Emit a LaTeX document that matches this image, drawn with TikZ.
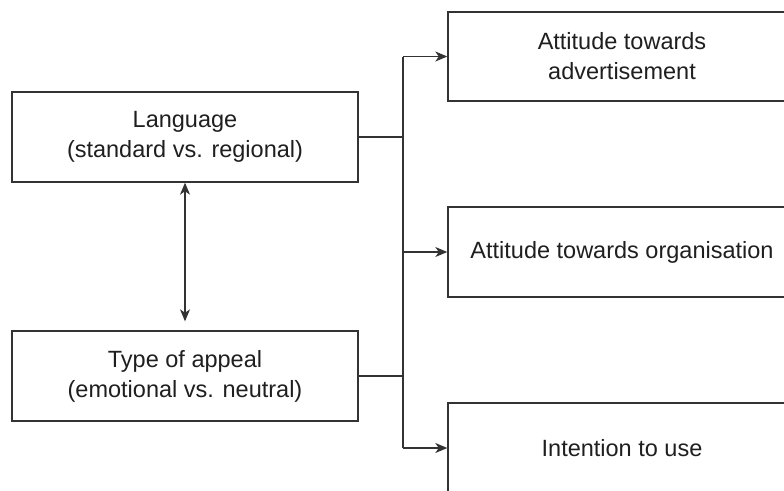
\documentclass[tikz,border=0pt]{standalone}
\usepackage{fontspec}
\setmainfont{Liberation Sans}
\usetikzlibrary{arrows.meta}
\begin{document}
\begin{tikzpicture}[x=1pt,y=-1pt,
  box/.style={draw=black!80,line width=1.4pt,fill=white,inner sep=0pt,
    align=center,text=black!88,font=\fontsize{23.5}{30}\selectfont},
  conn/.style={draw=black!80,line width=1.3pt},
  arr/.tip={Stealth[length=12pt,width=10pt,inset=3.5pt]},
  tip/.style={-arr}]
\useasboundingbox (0,0) rectangle (784,490);
\clip (0,0) rectangle (784,490);
\fill[white] (0,0) rectangle (784,490);
\node[box,minimum width=346pt,minimum height=90pt] (lang) at (185,137) {Language\\(standard vs. regional)};
\node[box,minimum width=346pt,minimum height=90pt] (type) at (185,376) {Type of appeal\\(emotional vs. neutral)};
\node[box,minimum width=348pt,minimum height=89pt] (att1) at (622,56.5) {Attitude towards\\advertisement};
\node[box,minimum width=348pt,minimum height=90pt] (att2) at (622,252) {Attitude towards organisation};
\node[box,minimum width=348pt,minimum height=90pt] (att3) at (622,448) {Intention to use};
\coordinate (jL) at (403,137);
\coordinate (jT) at (403,376);
\coordinate (j1) at (403,56.5);
\coordinate (j2) at (403,252);
\coordinate (j3) at (403,448);
\draw[conn] (lang.east) -- (jL);
\draw[conn] (type.east) -- (jT);
\draw[conn] (j1) -- (j3);
\draw[conn,tip] (j1) -- (att1.west);
\draw[conn,tip] (j2) -- (att2.west);
\draw[conn,tip] (j3) -- (att3.west);
\draw[conn,arr-arr,shorten >=9pt] (lang.south) -- (type.north);
\end{tikzpicture}
\end{document}
